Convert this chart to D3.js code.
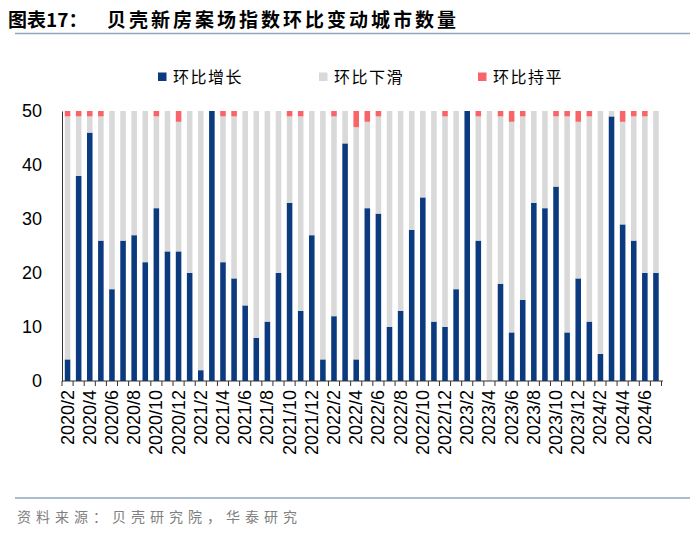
<!DOCTYPE html>
<html><head><meta charset="utf-8">
<script src="https://cdn.jsdelivr.net/npm/d3@7"></script>
<style>body{margin:0;background:#fff}svg{display:block}</style>
</head><body>
<svg id="c" width="700" height="535"></svg>
<script>
const months = [];
const years = [2020,2021,2022,2023,2024];
years.forEach(y => { for (let m = 1; m <= 12; m++) { if ((y === 2020 && m < 2) || (y === 2024 && m > 7)) continue; months.push(y + "/" + m); } });

const up   = [4,38,46,26,17,26,27,22,32,24,24,20,2,50,22,19,14,8,11,20,33,13,27,4,12,44,4,32,31,10,13,28,34,11,10,17,50,26,0,18,9,15,33,32,36,9,19,11,5,49,29,26,20,20];
const down = [45,11,3,23,33,24,23,28,17,26,24,30,48,0,27,30,36,42,39,30,16,36,23,46,37,6,43,16,18,40,37,22,16,39,39,33,0,23,50,31,39,34,17,18,13,40,29,38,45,1,19,23,29,30];
const flat = [1,1,1,1,0,0,0,0,1,0,2,0,0,0,1,1,0,0,0,0,1,1,0,0,1,0,3,2,1,0,0,0,0,0,1,0,0,1,0,1,2,1,0,0,1,1,2,1,0,0,2,1,1,0];
const seriesNames = ["环比增长","环比下滑","环比持平"];
const yTicks = [0,10,20,30,40,50];
const colors = ["#0b3a7e","#d9d9d9","#f86468"];

const svg = d3.select("#c");
const x = d3.scaleBand().domain(months).range([62, 661.5]).paddingInner(0.5).paddingOuter(0.25);
const y = d3.scaleLinear().domain([0,50]).range([381,111]);

const rows = months.map((m,i) => ({m, up: up[i], down: down[i], flat: flat[i]}));
const stack = d3.stack().keys(["up","down","flat"])(rows);

svg.append("g").selectAll("g").data(stack).join("g")
  .attr("fill", (d,i) => colors[i])
  .selectAll("rect").data(d => d).join("rect")
  .attr("x", d => x(d.data.m))
  .attr("width", x.bandwidth())
  .attr("y", d => y(d[1]))
  .attr("height", d => y(d[0]) - y(d[1]));

// y axis
const ya = svg.append("g").attr("transform","translate(62,0)")
  .call(d3.axisLeft(y).tickValues(yTicks).tickSize(0).tickPadding(20));
ya.select(".domain").attr("stroke","#333");
ya.selectAll("text").attr("font-family","Liberation Sans, Arial").attr("font-size","18px").attr("fill","#000");

// x axis
const xa = svg.append("g").attr("transform","translate(0,381)");
xa.append("line").attr("x1",62).attr("x2",663).attr("y1",0).attr("y2",0).attr("stroke","#333");
const bounds = months.map(m => x(m) + x.bandwidth()/2 - x.step()/2);
bounds.push(x(months[months.length-1]) + x.bandwidth()/2 + x.step()/2);
xa.selectAll("line.t").data(bounds).join("line").attr("class","t")
  .attr("x1", d => d).attr("x2", d => d).attr("y1",0).attr("y2",5).attr("stroke","#333");
xa.selectAll("text").data(months.filter((m,i) => i % 2 === 0)).join("text")
  .attr("transform", d => `translate(${x(d) + x.bandwidth()/2 + 6},9) rotate(-90)`)
  .attr("text-anchor","end")
  .attr("font-family","Liberation Sans, Arial").attr("font-size","18px").attr("fill","#000")
  .text(d => d);

// legend
const lg = svg.append("g");
const lx = [158, 319, 478];
seriesNames.forEach((n,i) => {
  lg.append("rect").attr("x", lx[i]).attr("y", 72.5).attr("width", 8.5).attr("height", 8.5).attr("fill", colors[i]);
  lg.append("text").attr("x", lx[i] + 15).attr("y", 82.5).attr("font-family","Noto Sans CJK SC")
    .attr("font-size","16px").attr("letter-spacing","1.5px").attr("fill","#000").text(n);
});

// title
svg.append("text").attr("x", 8).attr("y", 27).attr("font-family","Noto Sans CJK SC").attr("font-weight","bold")
  .attr("font-size","19px").attr("fill","#000")
  .html('图表17：<tspan x="107" letter-spacing="3px">贝壳新房案场指数环比变动城市数量</tspan>');
svg.append("line").attr("x1",15).attr("x2",690).attr("y1",33.5).attr("y2",33.5).attr("stroke","#8ea6be").attr("stroke-width",1.5);

// footer
svg.append("line").attr("x1",15).attr("x2",690).attr("y1",498).attr("y2",498).attr("stroke","#8ea6be").attr("stroke-width",1.5);
svg.append("text").attr("x",17).attr("y",522).attr("font-family","Noto Sans CJK SC").attr("font-size","14px")
  .attr("letter-spacing","5px").attr("fill","#808080").text("资料来源：贝壳研究院，华泰研究");
</script>
</body></html>
